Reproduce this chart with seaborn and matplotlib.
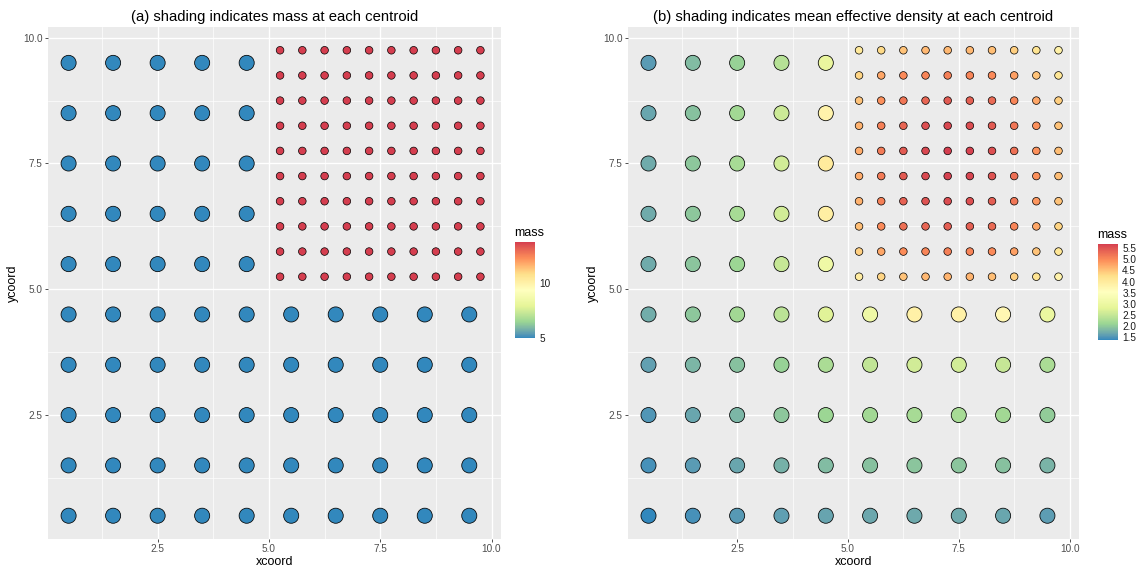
import numpy as np
import pandas as pd
import matplotlib
matplotlib.use("Agg")
import matplotlib.pyplot as plt
from matplotlib.colors import ListedColormap, Normalize
import matplotlib.colorbar as mcolorbar
import seaborn as sns

# ---- data -------------------------------------------------------------
coarse_x = [0.5, 1.5, 2.5, 3.5, 4.5, 5.5, 6.5, 7.5, 8.5, 9.5]
coarse_y = [0.5, 1.5, 2.5, 3.5, 4.5, 5.5, 6.5, 7.5, 8.5, 9.5]
fine_x = [5.25, 5.75, 6.25, 6.75, 7.25, 7.75, 8.25, 8.75, 9.25, 9.75]
fine_y = [5.25, 5.75, 6.25, 6.75, 7.25, 7.75, 8.25, 8.75, 9.25, 9.75]

coarse_mass = 5.0
fine_mass = 13.7

# mean effective density, coarse centroids (one row per ycoord, bottom to top)
coarse_density = [
    [1.35, 1.45, 1.52, 1.58, 1.63, 1.67, 1.68, 1.68, 1.64, 1.57],
    [1.45, 1.55, 1.65, 1.75, 1.85, 1.90, 1.93, 1.93, 1.90, 1.78],
    [1.50, 1.65, 1.80, 1.95, 2.10, 2.15, 2.20, 2.20, 2.15, 2.00],
    [1.60, 1.80, 1.90, 2.05, 2.25, 2.45, 2.60, 2.60, 2.50, 2.25],
    [1.72, 1.95, 2.15, 2.40, 2.75, 3.05, 3.85, 3.85, 3.70, 2.95],
    [1.70, 1.93, 2.10, 2.50, 3.05],
    [1.70, 1.95, 2.20, 2.60, 3.90],
    [1.70, 1.95, 2.20, 2.60, 4.00],
    [1.65, 1.90, 2.15, 2.55, 3.80],
    [1.55, 1.85, 2.05, 2.35, 2.90],
]

# mean effective density, fine centroids (one row per ycoord, bottom to top)
fine_density = [
    [3.95, 4.35, 4.50, 4.60, 4.63, 4.63, 4.55, 4.40, 4.15, 3.80],
    [4.40, 4.75, 4.98, 5.05, 5.10, 5.07, 5.00, 4.80, 4.50, 4.10],
    [4.55, 5.00, 5.25, 5.35, 5.42, 5.40, 5.30, 5.05, 4.75, 4.35],
    [4.65, 5.10, 5.38, 5.52, 5.58, 5.56, 5.42, 5.20, 4.90, 4.50],
    [4.70, 5.15, 5.45, 5.60, 5.66, 5.64, 5.52, 5.25, 4.95, 4.55],
    [4.70, 5.15, 5.45, 5.62, 5.70, 5.66, 5.55, 5.25, 4.95, 4.55],
    [4.65, 5.10, 5.35, 5.55, 5.62, 5.58, 5.45, 5.20, 4.95, 4.50],
    [4.50, 4.95, 5.20, 5.35, 5.45, 5.40, 5.30, 5.05, 4.75, 4.40],
    [4.35, 4.75, 5.00, 5.05, 5.10, 5.05, 5.00, 4.80, 4.50, 4.10],
    [4.05, 4.30, 4.50, 4.60, 4.60, 4.60, 4.55, 4.40, 4.15, 3.85],
]

titles = ["(a) shading indicates mass at each centroid",
          "(b) shading indicates mean effective density at each centroid"]
tick_vals = [2.5, 5.0, 7.5, 10.0]
tick_labels = ["2.5", "5.0", "7.5", "10.0"]

# ---- tidy tables -------------------------------------------------------
rows = []
for j, yv in enumerate(coarse_y):
    for i, d in enumerate(coarse_density[j]):
        rows.append(dict(xcoord=coarse_x[i], ycoord=yv, mass=coarse_mass, density=d))
coarse = pd.DataFrame(rows)

rows = []
for j, yv in enumerate(fine_y):
    for i, d in enumerate(fine_density[j]):
        rows.append(dict(xcoord=fine_x[i], ycoord=yv, mass=fine_mass, density=d))
fine = pd.DataFrame(rows)

# ---- reversed 7-class Spectral, interpolated in CIELAB -----------------
spectral7 = ["#3288BD", "#99D594", "#E6F598", "#FFFFBF", "#FEE08B", "#FC8D59", "#D53E4F"]


def _to_lab(hexc):
    rgb = np.array(matplotlib.colors.to_rgb(hexc))
    lin = np.where(rgb <= 0.04045, rgb / 12.92, ((rgb + 0.055) / 1.055) ** 2.4)
    m = np.array([[0.4124, 0.3576, 0.1805],
                  [0.2126, 0.7152, 0.0722],
                  [0.0193, 0.1192, 0.9505]])
    xyz = m @ lin / np.array([0.95047, 1.0, 1.08883])
    f = np.where(xyz > 0.008856, np.cbrt(xyz), 7.787 * xyz + 16 / 116)
    return np.array([116 * f[1] - 16, 500 * (f[0] - f[1]), 200 * (f[1] - f[2])])


def _from_lab(lab):
    fy = (lab[0] + 16) / 116
    fx = fy + lab[1] / 500
    fz = fy - lab[2] / 200
    f = np.array([fx, fy, fz])
    xyz = np.where(f ** 3 > 0.008856, f ** 3, (f - 16 / 116) / 7.787)
    xyz = xyz * np.array([0.95047, 1.0, 1.08883])
    minv = np.array([[3.2406, -1.5372, -0.4986],
                     [-0.9689, 1.8758, 0.0415],
                     [0.0557, -0.2040, 1.0570]])
    lin = minv @ xyz
    rgb = np.where(lin <= 0.0031308, 12.92 * lin, 1.055 * np.clip(lin, 0, None) ** (1 / 2.4) - 0.055)
    return np.clip(rgb, 0, 1)


labs = np.array([_to_lab(c) for c in spectral7])
stops = np.linspace(0, 1, len(spectral7))
grid = np.linspace(0, 1, 256)
lab_ramp = np.stack([np.interp(grid, stops, labs[:, k]) for k in range(3)], axis=1)
cmap = ListedColormap([_from_lab(l) for l in lab_ramp])

# ---- styling -----------------------------------------------------------
sns.set_theme(style="darkgrid")
plt.rcParams.update({
    "font.family": ["Liberation Sans", "DejaVu Sans"],
    "axes.facecolor": "#EBEBEB",
    "grid.color": "white",
})

fig = plt.figure(figsize=(11.4, 5.73), dpi=100)
W, H = 1140, 573

panels = [(48, 501), (628, 1079)]
top_px, bot_px = 27, 539
cbars = [(515, 242), (1098, 244)]

specs = [
    ("mass", (min(coarse_mass, fine_mass), max(coarse_mass, fine_mass)), [5, 10], ["5", "10"]),
    ("density",
     (min(coarse["density"].min(), fine["density"].min()),
      max(coarse["density"].max(), fine["density"].max())),
     [1.5, 2.0, 2.5, 3.0, 3.5, 4.0, 4.5, 5.0, 5.5],
     ["1.5", "2.0", "2.5", "3.0", "3.5", "4.0", "4.5", "5.0", "5.5"]),
]

xmin = min(coarse["xcoord"].min(), fine["xcoord"].min())
xmax = max(coarse["xcoord"].max(), fine["xcoord"].max())
ymin = min(coarse["ycoord"].min(), fine["ycoord"].min())
ymax = max(coarse["ycoord"].max(), fine["ycoord"].max())
xpad = 0.05 * (xmax - xmin)
ypad = 0.05 * (ymax - ymin)

for k, ((l_px, r_px), (col, lims, cticks, cticklabels), (cx, cy)) in enumerate(zip(panels, specs, cbars)):
    ax = fig.add_axes([l_px / W, 1 - bot_px / H, (r_px - l_px) / W, (bot_px - top_px) / H])
    ax.set_axisbelow(True)
    norm = Normalize(vmin=lims[0], vmax=lims[1])

    sns.scatterplot(data=coarse, x="xcoord", y="ycoord", hue=col, palette=cmap,
                    hue_norm=norm, s=118, edgecolor="black", linewidth=0.55,
                    legend=False, ax=ax, zorder=3)
    sns.scatterplot(data=fine, x="xcoord", y="ycoord", hue=col, palette=cmap,
                    hue_norm=norm, s=30, edgecolor="black", linewidth=0.5,
                    legend=False, ax=ax, zorder=3)

    ax.set_xlim(xmin - xpad, xmax + xpad)
    ax.set_ylim(ymin - ypad, ymax + ypad)
    ax.set_xticks(tick_vals)
    ax.set_xticklabels(tick_labels)
    ax.set_yticks(tick_vals)
    ax.set_yticklabels(tick_labels)
    ax.set_xticks([1.25, 3.75, 6.25, 8.75], minor=True)
    ax.set_yticks([1.25, 3.75, 6.25, 8.75], minor=True)
    ax.grid(which="major", color="white", linewidth=1.0)
    ax.grid(which="minor", color="white", linewidth=0.5)
    ax.tick_params(which="major", length=2.2, width=0.6, color="#333333",
                   labelsize=7.2, labelcolor="#4D4D4D", pad=1.5,
                   bottom=True, left=True)
    ax.tick_params(which="minor", length=0)
    for sp in ax.spines.values():
        sp.set_visible(False)
    ax.set_xlabel("xcoord", fontsize=9, color="black", labelpad=1.5)
    ax.set_ylabel("ycoord", fontsize=9, color="black", labelpad=3)
    ax.set_title(titles[k], fontsize=10.7, color="black", pad=4)

    # colour bar legend
    cax = fig.add_axes([cx / W, 1 - (cy + 96) / H, 20 / W, 96 / H])
    cb = mcolorbar.ColorbarBase(cax, cmap=cmap, norm=norm, orientation="vertical")
    cb.outline.set_visible(False)
    cb.set_ticks(cticks)
    cb.set_ticklabels(cticklabels)
    cax.yaxis.set_ticks_position("both")
    cax.tick_params(direction="in", length=4, width=0.6, color="white",
                    labelleft=False, labelright=True, labelsize=7.2,
                    labelcolor="#1A1A1A", pad=3)
    cax.minorticks_off()
    fig.text(cx / W - 1 / W, 1 - (cy - 3) / H, "mass", fontsize=9, color="black",
             ha="left", va="bottom")

fig.savefig("out.png", dpi=100)
